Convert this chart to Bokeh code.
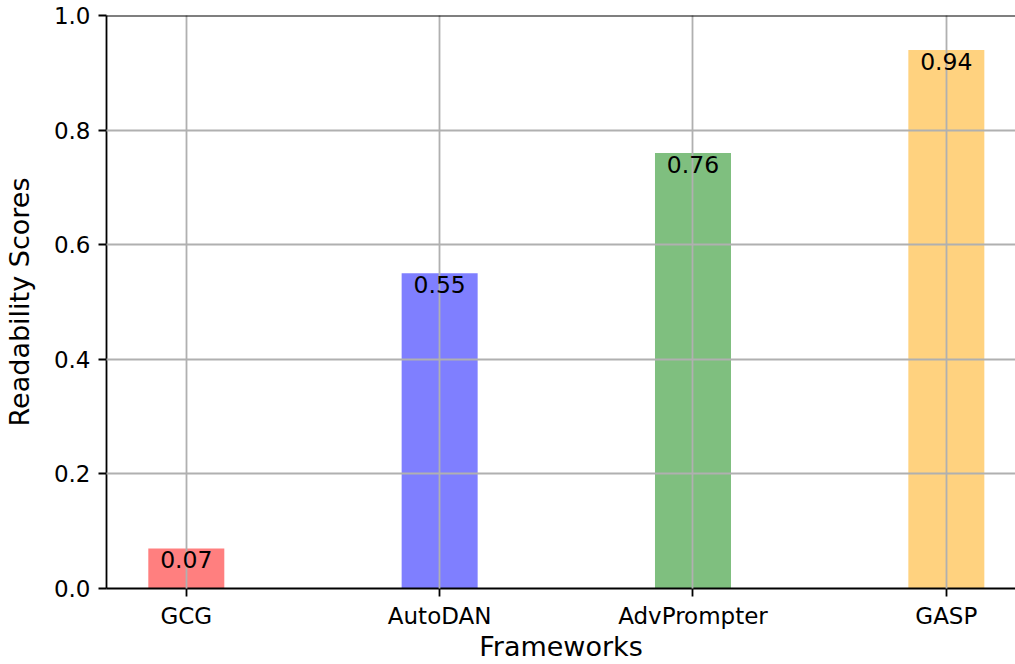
from bokeh.plotting import figure
from bokeh.models import ColumnDataSource, Range1d, FixedTicker, PrintfTickFormatter, LabelSet, Span
from bokeh.core.properties import value
from bokeh.embed import file_html
from bokeh.resources import INLINE

frameworks = ["GCG", "AutoDAN", "AdvPrompter", "GASP"]
scores = [0.07, 0.55, 0.76, 0.94]
colors = ["red", "blue", "green", "orange"]
label_text = ["%.2f" % s for s in scores]
y_ticks = [0.0, 0.2, 0.4, 0.6, 0.8, 1.0]

positions = list(range(len(frameworks)))
src = ColumnDataSource(dict(x=positions, top=scores, color=colors, label=label_text))

FONT = "DejaVu Sans"

p = figure(width=1015, height=664, output_backend="svg", toolbar_location=None,
           x_range=Range1d(-0.315, 3.273), y_range=Range1d(0, 1.0),
           min_border_left=104, min_border_right=0, min_border_top=15, min_border_bottom=76)
p.outline_line_color = None
p.background_fill_color = "white"

p.vbar(x="x", top="top", width=0.3, source=src, fill_color="color", fill_alpha=0.5, line_color=None)

labels = LabelSet(x="x", y="top", text="label", source=src, text_align="center",
                  text_baseline="top", y_offset=-3, text_font=value(FONT), text_font_size="23.5px",
                  text_color="black", level="annotation")
p.add_layout(labels)

p.add_layout(Span(location=1.0, dimension="width", line_color="black", line_width=1.8))

p.xaxis.ticker = FixedTicker(ticks=positions)
p.xaxis.major_label_overrides = {i: n for i, n in enumerate(frameworks)}
p.yaxis.ticker = FixedTicker(ticks=y_ticks)
p.yaxis.formatter = PrintfTickFormatter(format="%.1f")

for ax in (p.xaxis[0], p.yaxis[0]):
    ax.axis_line_color = "black"
    ax.axis_line_width = 1.8
    ax.major_tick_line_color = "black"
    ax.major_tick_line_width = 1.8
    ax.major_tick_out = 8
    ax.major_tick_in = 0
    ax.minor_tick_line_color = None
    ax.major_label_text_font = FONT
    ax.major_label_text_font_size = "23px"
    ax.major_label_text_color = "black"
    ax.axis_label_text_font = FONT
    ax.axis_label_text_font_size = "27px"
    ax.axis_label_text_font_style = "normal"
    ax.axis_label_text_color = "black"

p.xaxis.axis_label = "Frameworks"
p.yaxis.axis_label = "Readability Scores"
p.xaxis.major_label_standoff = 6
p.yaxis.major_label_standoff = 8
p.xaxis.axis_label_standoff = -1
p.yaxis.axis_label_standoff = 16

for g in (p.xgrid[0], p.ygrid[0]):
    g.grid_line_color = "#b0b0b0"
    g.grid_line_width = 1.8
    g.level = "guide"
p.xgrid.ticker = FixedTicker(ticks=positions)
p.ygrid.ticker = FixedTicker(ticks=y_ticks)

open("out.html", "w").write(file_html(p, INLINE))
